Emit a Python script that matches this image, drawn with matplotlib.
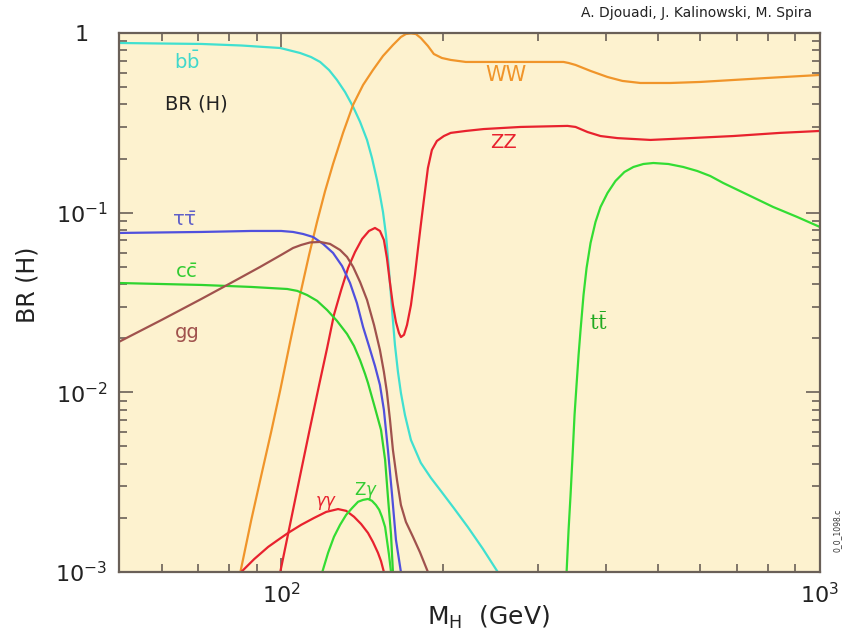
import matplotlib.pyplot as plt
from matplotlib.ticker import FixedLocator, FixedFormatter, LogLocator, NullFormatter

plt.rcParams['font.family'] = ['DejaVu Sans']
plt.rcParams['mathtext.fontset'] = 'dejavusans'

# SM Higgs branching ratios (M_H in GeV)
bb_m = [50, 60.0, 71.1, 84.3, 99.6, 108.4, 113.6, 118.1, 122.7, 126.9, 131.4, 136.0, 140.1,
        144.3, 147.4, 150.6, 152.5, 154.5, 156.5, 158.5, 160.6, 162.6, 164.7, 166.8, 169.7,
        174.1, 181.6, 189.6, 197.8, 209.1, 222.0, 236.6, 252.3]
bb_br = [0.88, 0.874, 0.869, 0.852, 0.825, 0.774, 0.735, 0.690, 0.622, 0.548, 0.469, 0.388,
         0.320, 0.254, 0.2015, 0.152, 0.1255, 0.1009, 0.0751, 0.048, 0.0287, 0.01835, 0.0130,
         0.00992, 0.00748, 0.00543, 0.00405, 0.00334, 0.00283, 0.00227, 0.00178, 0.00135, 0.001]

ww_m = [84.0, 88.0, 91.8, 95.8, 99.6, 103.9, 108.4, 112.7, 116.6, 120.6, 124.8, 130.3, 136.0,
        141.9, 148.0, 154.5, 161.2, 166.8, 170.4, 174.1, 177.8, 181.6, 187.2, 192.0, 198.7,
        206.4, 220.1, 237.6, 334.2, 341.5, 351.8, 375.1, 403.3, 429.9, 464.2, 527.5, 599.5,
        797.8, 1000]
ww_br = [0.001, 0.00195, 0.00343, 0.00602, 0.0103, 0.0191, 0.0348, 0.0585, 0.0893, 0.1315,
         0.1866, 0.279, 0.399, 0.514, 0.622, 0.745, 0.857, 0.950, 0.987, 0.995, 0.987, 0.938,
         0.847, 0.764, 0.726, 0.708, 0.690, 0.690, 0.690, 0.681, 0.664, 0.615, 0.569, 0.541,
         0.527, 0.527, 0.534, 0.562, 0.584]

zz_m = [99.6, 103.9, 108.4, 112.7, 117.6, 121.7, 125.3, 129.2, 133.1, 137.1, 141.3, 145.5,
        149.3, 152.5, 155.1, 157.1, 159.2, 161.2, 163.3, 165.4, 166.8, 169.0, 171.2, 174.1,
        177.1, 179.3, 181.6, 184.0, 187.2, 190.4, 194.5, 200.4, 206.4, 220.1, 237.6, 278.3,
        340.0, 351.8, 370.4, 391.4, 420.8, 484.4, 574.4, 690.1, 843.0, 1000]
zz_br = [0.001, 0.00185, 0.00343, 0.00602, 0.011, 0.01767, 0.027, 0.0371, 0.0493, 0.0604,
         0.0714, 0.0791, 0.0822, 0.0791, 0.0705, 0.056, 0.0406, 0.0306, 0.0246, 0.0214,
         0.0203, 0.0209, 0.0237, 0.0306, 0.045, 0.062, 0.0854, 0.1177, 0.1773, 0.2233,
         0.2506, 0.267, 0.278, 0.285, 0.292, 0.300, 0.304, 0.300, 0.281, 0.267, 0.260,
         0.254, 0.260, 0.267, 0.278, 0.285]

tt_m = [338.6, 341.5, 344.4, 347.4, 350.3, 353.3, 356.4, 359.4, 364.0, 368.8, 375.1, 383.1,
        391.4, 403.3, 417.2, 433.5, 450.5, 470.1, 490.6, 523.0, 557.5, 591.8, 625.6, 661.2,
        735.6, 818.4, 906.7, 1000]
tt_br = [0.001, 0.00172, 0.00269, 0.00448, 0.00748, 0.011, 0.01615, 0.0222, 0.0348, 0.0493,
         0.0678, 0.0887, 0.1076, 0.1287, 0.150, 0.1684, 0.1796, 0.1866, 0.189, 0.1866,
         0.1796, 0.1706, 0.160, 0.1463, 0.1255, 0.1076, 0.0947, 0.0832]

tautau_m = [50, 71.1, 88.0, 100, 105.2, 109.8, 114.6, 119.6, 124.8, 129.7, 134.2, 138.2,
            141.9, 145.5, 149.3, 152.5, 155.1, 157.8, 160.6, 163.3, 166.8]
tautau_br = [0.0771, 0.0781, 0.0791, 0.0791, 0.0781, 0.0761, 0.0732, 0.0670, 0.0597, 0.0505,
             0.0406, 0.0314, 0.0231, 0.01812, 0.01402, 0.011, 0.00798, 0.00478, 0.00269,
             0.00151, 0.001]

cc_m = [50, 71.1, 88.0, 102.6, 107.1, 111.7, 116.6, 121.7, 126.9, 132.5, 136.5, 140.1, 143.1,
        144.9, 149.3, 153.2, 155.9, 157.8, 159.9, 161.2]
cc_br = [0.0406, 0.0396, 0.0386, 0.0376, 0.0367, 0.0348, 0.0323, 0.0287, 0.0250, 0.02113,
         0.01812, 0.0151, 0.01266, 0.01128, 0.00819, 0.00618, 0.00421, 0.00262, 0.00161, 0.001]

gg_m = [50, 60.0, 71.1, 79.4, 91.4, 100, 105.2, 108.9, 113.2, 118.1, 123.2, 128.6, 132.5,
        136.0, 140.1, 144.3, 148.7, 152.5, 155.1, 157.1, 159.2, 161.2, 164.0, 166.8, 170.4,
        175.6, 180.9, 187.2]
gg_br = [0.0191, 0.0253, 0.0331, 0.0396, 0.0499, 0.0582, 0.0636, 0.0661, 0.0683, 0.0687,
         0.0670, 0.062, 0.0567, 0.0499, 0.0411, 0.0327, 0.0237, 0.0172, 0.0130, 0.01005,
         0.00702, 0.00478, 0.00326, 0.00236, 0.0019, 0.00157, 0.00129, 0.001]

gamgam_m = [84.3, 89.1, 94.6, 98.7, 103.0, 108.9, 115.1, 121.2, 127.5, 132.0, 136.5, 140.7,
            144.9, 148.0, 151.2, 153.2, 155.1]
gamgam_br = [0.001, 0.00118, 0.00138, 0.00151, 0.00165, 0.00183, 0.0020, 0.00216, 0.00224,
             0.00219, 0.00203, 0.00185, 0.00165, 0.00147, 0.00128, 0.00115, 0.001]

zgam_m = [119.2, 122.2, 125.3, 128.6, 132.0, 135.4, 138.9, 141.9, 144.9, 147.4, 149.9, 152.0,
          153.8, 155.9, 157.1, 158.5, 159.9]
zgam_br = [0.001, 0.00128, 0.00157, 0.00183, 0.00208, 0.00227, 0.00246, 0.00252, 0.00255,
           0.00249, 0.00236, 0.00222, 0.00203, 0.00178, 0.00151, 0.00125, 0.001]

xticks = [100, 1000]
xtick_labels = [r'$10^{2}$', r'$10^{3}$']
yticks = [1e-3, 1e-2, 1e-1, 1]
ytick_labels = [r'$10^{-3}$', r'$10^{-2}$', r'$10^{-1}$', '1']

axis_col = '#6a6058'

fig = plt.figure(figsize=(8.48, 6.36), dpi=100)
ax = fig.add_axes([119 / 848, 1 - 572 / 636, 701 / 848, 539 / 636])
ax.set_facecolor('#fdf2cf')
ax.set_xscale('log')
ax.set_yscale('log')
ax.set_xlim(50, 1000)
ax.set_ylim(1e-3, 1)

lw = 1.6
ax.plot(bb_m, bb_br, color='#40e0d0', lw=lw)
ax.plot(ww_m, ww_br, color='#f0952a', lw=lw)
ax.plot(zz_m, zz_br, color='#e8222e', lw=lw)
ax.plot(tt_m, tt_br, color='#33dd33', lw=lw)
ax.plot(tautau_m, tautau_br, color='#5050dd', lw=lw)
ax.plot(cc_m, cc_br, color='#2fd42f', lw=lw)
ax.plot(gg_m, gg_br, color='#a0524d', lw=lw)
ax.plot(gamgam_m, gamgam_br, color='#e8222e', lw=lw)
ax.plot(zgam_m, zgam_br, color='#33dd33', lw=lw)

# curve labels
ax.text(66.7, 0.69, r'$\mathrm{b\bar{b}}$', color='#40d8cc', fontsize=14, ha='center', va='center')
ax.text(69.6, 0.403, 'BR (H)', color='#222222', fontsize=14, ha='center', va='center')
ax.text(66.1, 0.0899, r'$\mathrm{\tau\bar{\tau}}$', color='#6060c8', fontsize=14, ha='center',
        va='center')
ax.text(66.7, 0.0462, r'$\mathrm{c\bar{c}}$', color='#33cc33', fontsize=14, ha='center', va='center')
ax.text(67.0, 0.0214, 'gg', color='#a0524d', fontsize=14, ha='center', va='center')
ax.text(261, 0.584, 'WW', color='#f0952a', fontsize=15, ha='center', va='center')
ax.text(258.8, 0.247, 'ZZ', color='#e8222e', fontsize=14, ha='center', va='center')
ax.text(388, 0.0243, r'$\mathrm{t\bar{t}}$', color='#22aa22', fontsize=15, ha='center', va='center',
        math_fontfamily='dejavuserif')
ax.text(121.2, 0.00242, r'$\gamma\gamma$', color='#e8222e', fontsize=12, ha='center', va='center')
ax.text(143.7, 0.00286, r'$\mathrm{Z}\gamma$', color='#33cc33', fontsize=12, ha='center', va='center')

# axes styling
for s in ax.spines.values():
    s.set_color(axis_col)
    s.set_linewidth(1.6)
ax.xaxis.set_major_locator(FixedLocator(xticks))
ax.xaxis.set_major_formatter(FixedFormatter(xtick_labels))
ax.yaxis.set_major_locator(FixedLocator(yticks))
ax.yaxis.set_major_formatter(FixedFormatter(ytick_labels))
ax.xaxis.set_minor_locator(LogLocator(base=10, subs=range(2, 10), numticks=20))
ax.yaxis.set_minor_locator(LogLocator(base=10, subs=range(2, 10), numticks=20))
ax.xaxis.set_minor_formatter(NullFormatter())
ax.yaxis.set_minor_formatter(NullFormatter())
ax.tick_params(which='both', direction='in', top=True, right=True, color=axis_col, width=1.2)
ax.tick_params(which='major', length=10)
ax.tick_params(which='minor', length=6)
ax.tick_params(axis='x', which='major', labelsize=16, pad=7, labelcolor='#222222')
ax.tick_params(axis='y', which='major', labelsize=16, pad=27, labelcolor='#222222')
for lab in ax.get_yticklabels():
    lab.set_ha('center')

fig.text(28 / 848, 1 - 285 / 636, 'BR (H)', rotation=90, fontsize=17, ha='center', va='center',
         color='#222222')
fig.text(488 / 848, 1 - 617 / 636, r'$\mathrm{M_H}$  (GeV)', fontsize=18, ha='center', va='center',
         color='#222222')
fig.text(697 / 848, 1 - 13 / 636, 'A. Djouadi, J. Kalinowski, M. Spira', fontsize=10,
         ha='center', va='center', color='#222222')
fig.text(837 / 848, 1 - 530 / 636, '0_0_1098.c', rotation=90, fontsize=5.5, ha='center',
         va='center', color='#333333')

fig.savefig('out.png', dpi=100)
